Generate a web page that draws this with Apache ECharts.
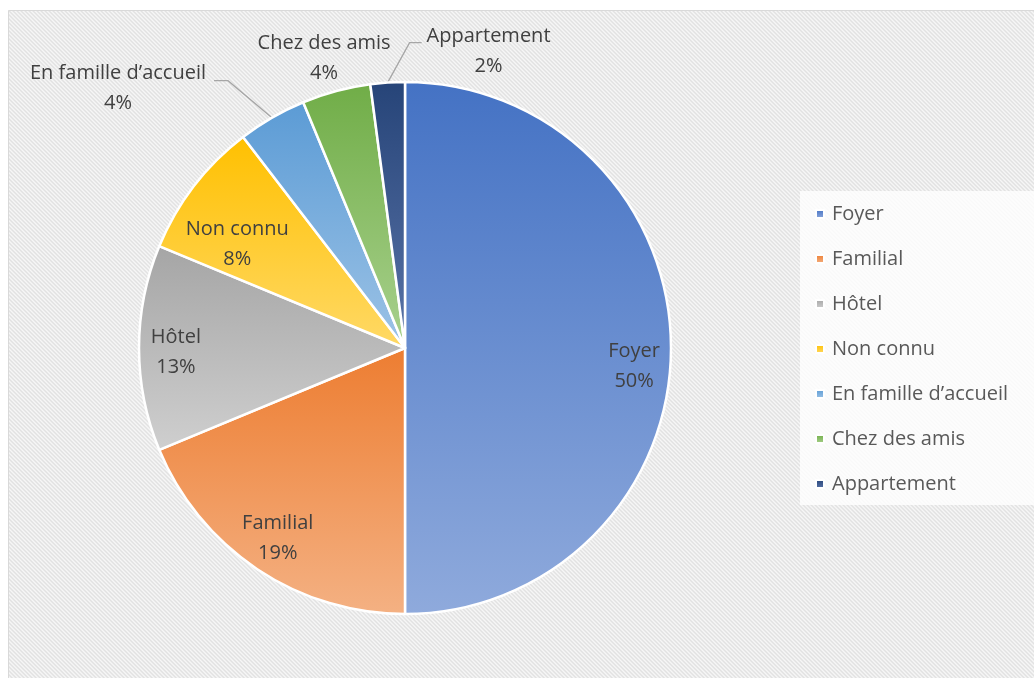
<!DOCTYPE html>
<html>
<head>
<meta charset="utf-8">
<title>Hébergement</title>
<script src="https://cdn.jsdelivr.net/npm/echarts@6/dist/echarts.min.js"></script>
<style>
  html, body { margin: 0; padding: 0; background: #fff; }
  #chart { width: 1034px; height: 678px; }
</style>
</head>
<body>
<div id="chart"></div>
<script>
// data (counts, shares shown as rounded %)
const categories = ['Foyer', 'Familial', 'Hôtel', 'Non connu', 'En famille d’accueil', 'Chez des amis', 'Appartement']
const values = [24, 9, 6, 4, 2, 2, 1]
const topColors = ['#4472C4', '#ED7D31', '#A5A5A5', '#FFC000', '#5B9BD5', '#70AD47', '#264478']
const bottomColors = ['#8FAADC', '#F4B183', '#CFCFCF', '#FFD966', '#9DC3E6', '#A9D18E', '#5A74A8']
const insideLabels = ['Foyer', 'Familial', 'Hôtel', 'Non connu']

const CX = 405
const CY = 348
const R = 266
const FONT = 'Open Sans, Liberation Sans, sans-serif'

const total = values.reduce((a, b) => a + b, 0)

const gradient = (i) => new echarts.graphic.LinearGradient(0, 0, 0, 1, [
  { offset: 0, color: topColors[i] },
  { offset: 1, color: bottomColors[i] }
])

const labelText = (p) => '{t|' + p.name + '}\n{t|' + Math.round(p.value / total * 100) + '%}'

const richText = {
  t: { align: 'center', fontFamily: FONT, fontSize: 20, color: '#404040', lineHeight: 30 }
}

// hatched background like the office chart area
const makeHatch = () => {
  const c = document.createElement('canvas')
  c.width = 4
  c.height = 4
  const ctx = c.getContext('2d')
  const shades = ['#d8d8d8', '#e8e8e8', '#ffffff', '#f2f2f2']
  for (let y = 0; y < 4; y++) {
    for (let x = 0; x < 4; x++) {
      ctx.fillStyle = shades[((x - y) % 4 + 4) % 4]
      ctx.fillRect(x, y, 1, 1)
    }
  }
  return c
}

// outside label tweaks for the small slices
const outsideLabel = {
  'En famille d’accueil': { length: 57, length2: 14, show: true },
  'Chez des amis': { length: 35, length2: 0, show: false },
  'Appartement': { length: 40, length2: 10, show: true }
}

const pieData = categories.map((name, i) => {
  const item = { name, value: values[i], itemStyle: { color: gradient(i) } }
  const o = outsideLabel[name]
  if (o) {
    item.label = { show: true, position: 'outside', formatter: labelText, rich: richText }
    item.labelLine = { show: o.show, length: o.length, length2: o.length2 }
  }
  return item
})

const ringData = categories.map((name, i) => ({
  name,
  value: values[i],
  label: { show: insideLabels.includes(name) }
}))

const chart = echarts.init(document.getElementById('chart'))

chart.setOption({
  backgroundColor: '#ffffff',
  animation: false,
  graphic: [{
    type: 'rect',
    left: 8,
    top: 10,
    z: -10,
    silent: true,
    shape: { width: 1040, height: 680 },
    style: { fill: { image: makeHatch(), repeat: 'repeat' }, stroke: '#d9d9d9', lineWidth: 1 }
  }],
  legend: {
    orient: 'vertical',
    left: 800,
    top: 191,
    padding: [13, 40, 11, 15],
    backgroundColor: 'rgba(255,255,255,0.8)',
    itemWidth: 8,
    itemHeight: 8,
    itemGap: 25,
    icon: 'rect',
    textStyle: { fontFamily: FONT, fontSize: 20, color: '#595959', lineHeight: 20, padding: [0, 0, 0, 3] },
    data: categories.map((name, i) => ({ name, itemStyle: { color: gradient(i) } }))
  },
  series: [
    {
      type: 'pie',
      center: [CX, CY],
      radius: R,
      startAngle: 90,
      clockwise: true,
      silent: true,
      avoidLabelOverlap: false,
      itemStyle: { borderColor: '#ffffff', borderWidth: 2.5 },
      label: { show: false },
      labelLine: { lineStyle: { color: '#a6a6a6', width: 1.3 }, smooth: false },
      emphasis: { disabled: true },
      labelLayout: (p) => {
        const name = categories[p.dataIndex]
        const pts = p.labelLinePoints
        if (name === 'Chez des amis') {
          return { x: p.labelRect.x + p.labelRect.width + 2, y: p.labelRect.y + p.labelRect.height / 2 + 1, align: 'center', verticalAlign: 'middle' }
        }
        if (name === 'En famille d’accueil' && pts) {
          const bend = [pts[0][0] - 44, pts[0][1] - 37]
          const end = [bend[0] - 14, bend[1]]
          return {
            x: end[0] - 8,
            y: bend[1] + 8,
            align: 'right',
            verticalAlign: 'middle',
            labelLinePoints: [pts[0], bend, end]
          }
        }
        if (name === 'Appartement' && pts) {
          // office puts this one to the right of its leader line
          const bend = [pts[0][0] + 22, pts[1][1]]
          const end = [bend[0] + 12, bend[1]]
          return {
            x: end[0] + 5,
            y: bend[1] + 9,
            align: 'left',
            verticalAlign: 'middle',
            labelLinePoints: [pts[0], bend, end]
          }
        }
        return {}
      },
      data: pieData
    },
    {
      type: 'pie',
      center: [CX, CY],
      radius: [R * 0.7, R],
      startAngle: 90,
      clockwise: true,
      silent: true,
      itemStyle: { color: 'rgba(0,0,0,0)', borderWidth: 0 },
      label: { position: 'inside', formatter: labelText, rich: richText },
      labelLine: { show: false },
      emphasis: { disabled: true },
      labelLayout: (p) => {
        const name = categories[p.dataIndex]
        if (name === 'Foyer') return { dy: 18 }
        if (name === 'Hôtel') return { dy: 4 }
        if (name === 'Non connu') return { dx: 14, dy: 36 }
        return {}
      },
      data: ringData
    }
  ]
})
</script>
</body>
</html>
